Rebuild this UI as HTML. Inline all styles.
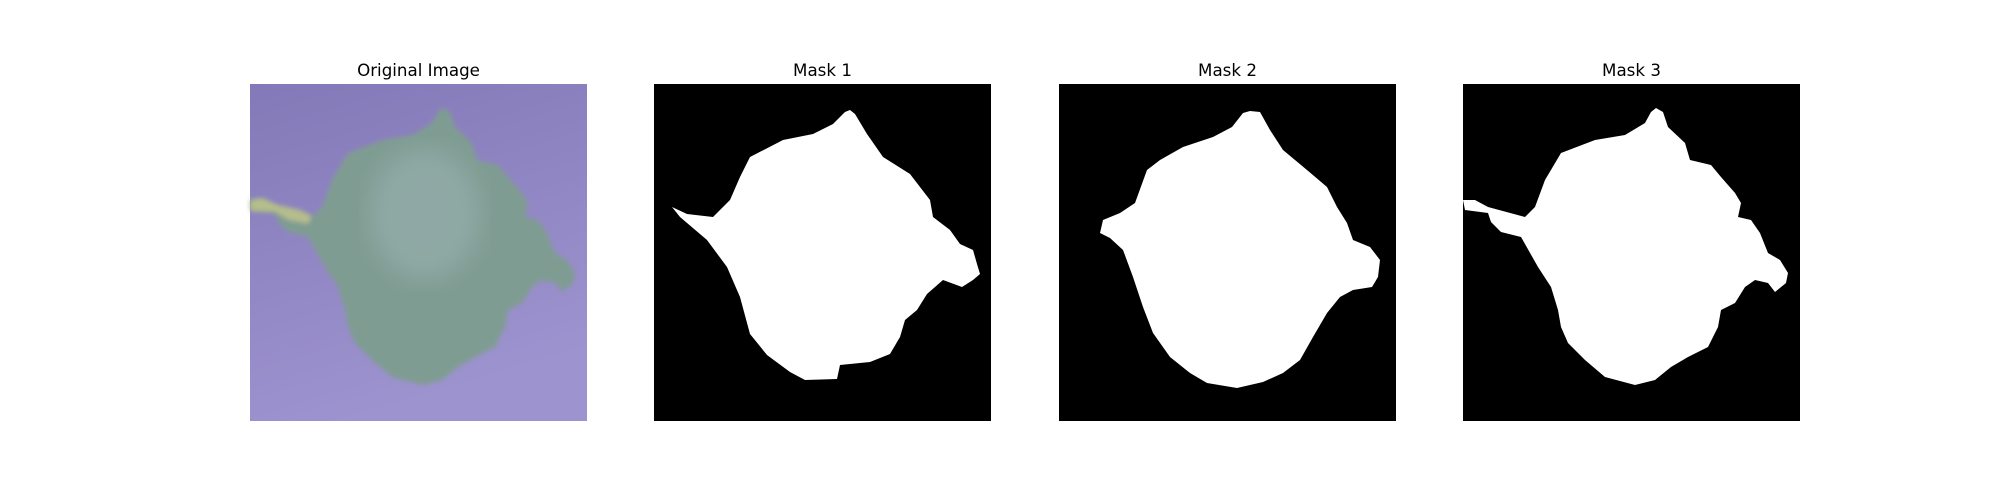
<!DOCTYPE html>
<html><head><meta charset="utf-8"><style>
html,body{margin:0;padding:0;background:#fff;}
svg{display:block;}
text{font-family:"DejaVu Sans","Liberation Sans",sans-serif;font-size:16.7px;fill:#000;}
</style></head><body>
<svg id="fig" width="2000" height="500" viewBox="0 0 2000 500" xmlns="http://www.w3.org/2000/svg">
<defs>
<linearGradient id="bg" x1="0" y1="0" x2="0.3" y2="1">
<stop offset="0" stop-color="#8479b8"/><stop offset="1" stop-color="#9d93cf"/>
</linearGradient>
<filter id="blur"><feGaussianBlur stdDeviation="2.5"/></filter>
<filter id="blur2"><feGaussianBlur stdDeviation="12"/></filter>
<clipPath id="clip0"><rect x="0" y="0" width="337" height="337"/></clipPath>
</defs>
</svg>
<script>
const titles = ["Original Image","Mask 1","Mask 2","Mask 3"];
const panelX = [250,654,1059,1463];
const mask1 = [[196,26],[201,30],[213,50],[229,73],[256,90],[276,116],[279,133],[296,146],[306,160],[319,166],[323,180],[326,190],[319,196],[308,203],[289,196],[273,210],[263,226],[251,236],[246,253],[236,270],[216,278],[186,281],[183,295],[151,296],[136,288],[113,271],[96,250],[86,213],[73,183],[53,156],[26,133],[18,123],[33,130],[59,133],[76,116],[86,93],[96,73],[129,56],[159,50],[179,40],[191,28]];
const mask2 = [[191,27],[201,28],[211,46],[224,66],[248,86],[268,103],[278,123],[288,139],[294,156],[311,163],[321,176],[319,193],[313,203],[294,206],[281,213],[268,229],[254,253],[241,276],[224,289],[204,298],[178,304],[148,299],[131,289],[111,273],[94,249],[84,223],[74,193],[64,166],[51,154],[41,149],[44,136],[61,129],[76,119],[88,86],[101,76],[124,63],[154,53],[173,43],[184,29]];
const mask3 = [[193,24],[200,28],[205,43],[222,59],[227,76],[248,81],[258,93],[272,109],[278,119],[275,133],[288,136],[297,149],[305,169],[317,176],[325,189],[323,199],[312,208],[305,199],[292,196],[282,203],[272,219],[258,226],[255,243],[245,263],[225,273],[208,283],[192,296],[172,301],[142,293],[122,276],[105,259],[98,243],[95,226],[88,203],[75,183],[58,153],[38,148],[28,138],[25,129],[2,126],[0,116],[12,116],[25,123],[62,133],[72,123],[82,96],[98,69],[132,56],[162,51],[182,39],[188,28]];
const masks = [mask3, mask1, mask2, mask3];
const NS = "http://www.w3.org/2000/svg";
const svg = document.getElementById('fig');
const panelY = 84, panelW = 337;
function pts(a){return a.map(p=>p.join(',')).join(' ');}
panelX.forEach((px,i)=>{
  const g = document.createElementNS(NS,'g');
  g.setAttribute('transform',`translate(${px},${panelY})`);
  
  
  const r = document.createElementNS(NS,'rect');
  r.setAttribute('width',panelW);r.setAttribute('height',panelW);
  r.setAttribute('fill', i===0 ? 'url(#bg)' : '#000');
  
  
  g.appendChild(r);
  const poly = document.createElementNS(NS,'polygon');
  poly.setAttribute('points',pts(masks[i]));
  if(i===0){
    poly.setAttribute('fill','#7f9c92');
    poly.setAttribute('filter','url(#blur)');
    poly.setAttribute('clip-path','url(#clip0)');
  } else poly.setAttribute('fill','#fff');
  
  
  g.appendChild(poly);
  if(i===0){
    const st = document.createElementNS(NS,'polygon');
    st.setAttribute('points','0,116 12,114 28,121 50,126 62,132 58,140 38,136 25,128 0,127');
    st.setAttribute('fill','#b5bd8c');
    st.setAttribute('filter','url(#blur)');
    
    
    g.appendChild(st);
    const hl = document.createElementNS(NS,'ellipse');
    hl.setAttribute('cx','175');hl.setAttribute('cy','130');hl.setAttribute('rx','55');hl.setAttribute('ry','65');
    hl.setAttribute('fill','#a3b8bc');hl.setAttribute('opacity','0.45');hl.setAttribute('filter','url(#blur2)');
    
    
    g.appendChild(hl);
  }
  svg.appendChild(g);
  const t = document.createElementNS(NS,'text');
  t.setAttribute('x',px+panelW/2);t.setAttribute('y',76);
  t.setAttribute('text-anchor','middle');
  t.textContent = titles[i];
  
  
  svg.appendChild(t);
});
</script>
</body></html>
